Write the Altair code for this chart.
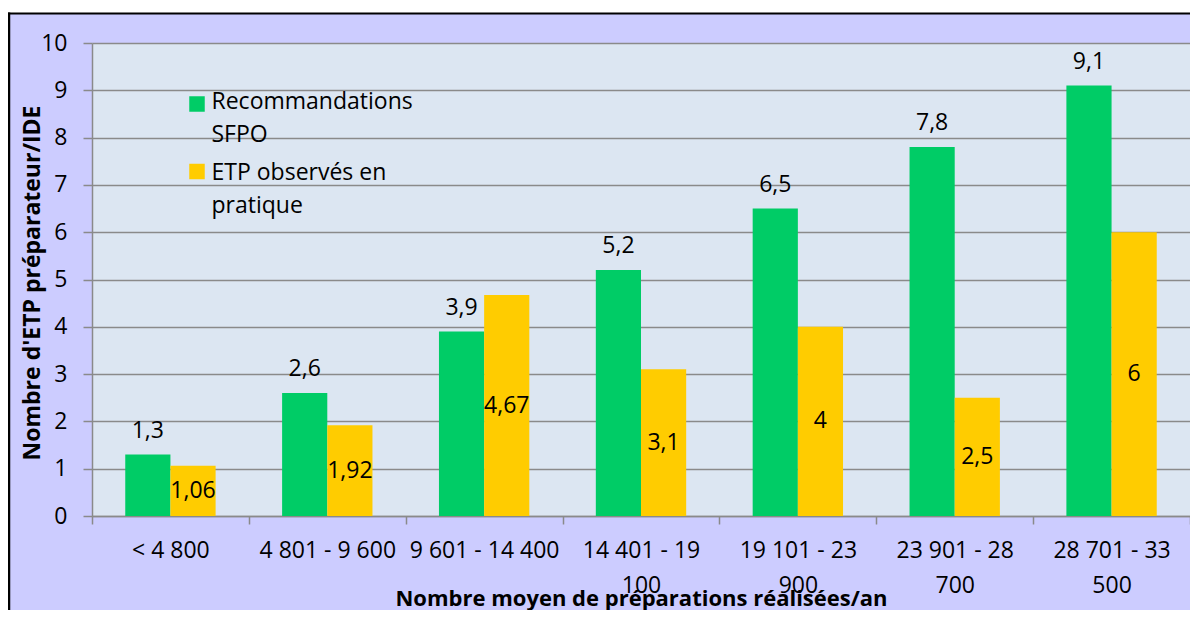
import altair as alt
import pandas as pd

categories = ["< 4 800", "4 801 - 9 600", "9 601 - 14 400", "14 401 - 19 100",
              "19 101 - 23 900", "23 901 - 28 700", "28 701 - 33 500"]
series_names = ["Recommandations SFPO", "ETP observés en pratique"]
sfpo_values = [1.3, 2.6, 3.9, 5.2, 6.5, 7.8, 9.1]
observed_values = [1.06, 1.92, 4.67, 3.1, 4, 2.5, 6]
legend_lines = [["Recommandations", "SFPO"], ["ETP observés en", "pratique"]]
y_ticks = list(range(0, 11))
colors = ["#00CC66", "#FFCC00"]

x_title = "Nombre moyen de préparations réalisées/an"
y_title = "Nombre  d'ETP préparateur/IDE"

rows = []
for c, v in zip(categories, sfpo_values):
    rows.append({"category": c, "series": series_names[0], "value": v})
for c, v in zip(categories, observed_values):
    rows.append({"category": c, "series": series_names[1], "value": v})
df = pd.DataFrame(rows)

FONT = "Open Sans"
FS = 23
W, H = 1098, 473
PAD_L, PAD_T, PAD_B = 84, 35, 94
GRID = "#8a8a8a"

x_enc = alt.X(
    "category:N", sort=categories,
    scale=alt.Scale(paddingInner=0, paddingOuter=0),
    axis=alt.Axis(
        title=x_title, tickBand="extent", tickSize=8, tickColor=GRID, tickWidth=1.5,
        domainColor=GRID, domainWidth=1.5, grid=False, labelAngle=0,
        labelExpr="length(datum.label) > 14 ? [slice(datum.label, 0, -4), slice(datum.label, -3)] : datum.label",
        labelFont=FONT, labelFontSize=FS, labelColor="black", labelLineHeight=35,
        labelBaseline="alphabetic", labelPadding=33, labelLimit=0,
        titleFont=FONT, titleFontSize=22, titleFontWeight="bold", titleColor="black",
        titleX=W / 2, titleY=89, titleAlign="center", titleBaseline="alphabetic",
    ),
)
xoff_enc = alt.XOffset(
    "series:N", sort=series_names,
    scale=alt.Scale(domain=series_names, paddingInner=0, paddingOuter=0.736),
)
y_enc = alt.Y(
    "value:Q",
    scale=alt.Scale(domain=[0, 10], nice=False),
    axis=alt.Axis(
        values=y_ticks, grid=True, gridColor=GRID, gridWidth=1.5,
        domainColor=GRID, domainWidth=1.5, tickColor=GRID, tickWidth=1.5, tickSize=9,
        labelFont=FONT, labelFontSize=FS, labelColor="black", labelPadding=16,
        title=y_title, titleFont=FONT, titleFontSize=23, titleFontWeight="bold",
        titleColor="black", titleAngle=270, titleX=-60, titleY=H / 2 + 3,
        titleAlign="center", titleBaseline="middle",
    ),
)

base = alt.Chart(df)

bars = base.mark_bar().encode(
    x=x_enc, xOffset=xoff_enc, y=y_enc,
    color=alt.Color("series:N", scale=alt.Scale(domain=series_names, range=colors), legend=None),
)

green_labels = base.transform_filter(
    alt.datum.series == series_names[0]
).transform_calculate(
    label="replace(toString(datum.value), '.', ',')"
).mark_text(dy=-17, baseline="alphabetic", font=FONT, fontSize=FS, color="black").encode(
    x=x_enc, xOffset=xoff_enc, y=y_enc, text="label:N"
)

yellow_labels = base.transform_filter(
    alt.datum.series == series_names[1]
).transform_calculate(
    label="replace(toString(datum.value), '.', ',')",
    mid="datum.value / 2",
).mark_text(baseline="middle", font=FONT, fontSize=FS, color="black").encode(
    x=x_enc, xOffset=xoff_enc, y=alt.Y("mid:Q"), text="label:N"
)

deco = alt.Chart(pd.DataFrame({"k": [0]}))
white_strip = deco.mark_rect(color="white").encode(
    x=alt.value(-PAD_L), x2=alt.value(W), y=alt.value(-PAD_T), y2=alt.value(-29.5)
)
top_border = deco.mark_rule(color="black", strokeWidth=2).encode(
    x=alt.value(-PAD_L), x2=alt.value(W), y=alt.value(-29.5)
)
left_border = deco.mark_rule(color="black", strokeWidth=2.5).encode(
    x=alt.value(-PAD_L + 1), y=alt.value(-30.5), y2=alt.value(H + PAD_B)
)

legend_layers = []
for i, (lines, col) in enumerate(zip(legend_lines, colors)):
    legend_layers.append(
        deco.mark_square(size=240, color=col, opacity=1).encode(
            x=alt.value(105), y=alt.value(61 + i * 67.5)
        )
    )
    legend_layers.append(
        deco.mark_text(text=lines, align="left", baseline="alphabetic", lineHeight=33,
                       font=FONT, fontSize=FS, color="black").encode(
            x=alt.value(119.5), y=alt.value(66 + i * 71)
        )
    )

chart = alt.layer(
    bars, green_labels, yellow_labels, white_strip, top_border, left_border, *legend_layers
).properties(
    width=W, height=H,
    autosize=alt.AutoSizeParams(type="none"),
    padding={"left": PAD_L, "top": PAD_T, "right": 0, "bottom": PAD_B},
    background="#CCCCFF",
).configure_view(fill="#DCE6F2", strokeWidth=0)

chart.save("out.html", embed_options={"renderer": "svg", "actions": False})
